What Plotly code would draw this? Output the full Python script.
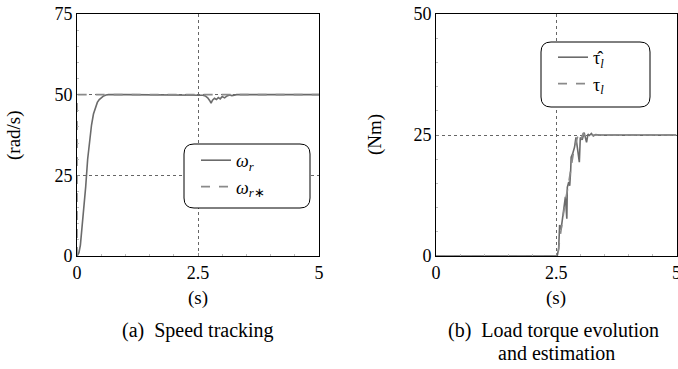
import plotly.graph_objects as go

# ---------------- data ----------------
# (a) speed tracking
t_w = [0, 0.04, 0.07, 0.10, 0.14, 0.18, 0.22, 0.26, 0.30, 0.34, 0.38, 0.42, 0.46, 0.50,
       0.55, 0.60, 0.65, 1.0, 1.5, 2.0, 2.55, 2.60, 2.65, 2.70, 2.74, 2.77, 2.80, 2.84,
       2.88, 2.92, 2.96, 3.00, 3.05, 3.10, 3.15, 3.20, 3.30, 4.0, 5.0]
w_r = [0, 1.0, 3.4, 8.0, 14.5, 21.5, 30.0, 36.0, 40.6, 44.0, 46.2, 47.6, 48.5, 49.1,
       49.6, 49.9, 50.0, 50.0, 50.0, 50.0, 50.0, 49.8, 49.6, 49.0, 48.2, 47.4, 48.3, 48.9,
       48.5, 49.1, 48.7, 49.4, 49.0, 49.6, 49.9, 49.7, 50.0, 50.0, 50.0]
t_ref = [0, 0, 5]
w_ref = [0, 50, 50]

# (b) load torque
t_hat = [0, 1.0, 2.0, 2.52, 2.55, 2.57, 2.60, 2.63, 2.66, 2.69, 2.72, 2.73, 2.76, 2.78,
         2.80, 2.81, 2.84, 2.88, 2.91, 2.95, 2.98, 3.00, 3.04, 3.08, 3.13, 3.16, 3.19,
         3.23, 3.27, 3.32, 3.40, 4.0, 5.0]
tau_hat = [0, 0, 0, 0, 1.5, 6.4, 5.5, 8.1, 9.5, 12.2, 7.7, 14.2, 15.3, 14.5,
           17.7, 20.4, 21.1, 22.5, 24.5, 21.5, 19.4, 24.5, 24.0, 25.5, 23.5, 25.2, 24.9,
           25.3, 24.8, 25.1, 25.0, 25.0, 25.0]
t_tau = [0, 2.53, 2.58, 2.62, 2.66, 2.70, 2.74, 2.78, 2.82, 2.86, 2.90, 2.94, 2.98,
         3.02, 3.06, 3.10, 3.15, 3.20, 3.30, 5.0]
tau_l = [0, 0, 4, 7, 10, 12, 14, 17, 19, 21.5, 23, 24.5, 25.3,
         24.2, 25.4, 24.7, 25.2, 24.9, 25.0, 25.0]

x_ticks = [0, 2.5, 5]
x_tick_text = ["0", "2.5", "5"]
y1_ticks = [0, 25, 50, 75]
y2_ticks = [0, 25, 50]

# ---------------- layout helpers ----------------
W, H = 678, 369
def px(x): return x / W
def py(y): return 1 - y / H

FONT = "Liberation Serif"
LC = "#6b6b6b"
fig = go.Figure()

fig.add_trace(go.Scatter(x=t_w, y=w_r, mode="lines", line=dict(color=LC, width=1.6),
                         name="<i>ω</i><sub><i>r</i></sub>", xaxis="x", yaxis="y", legend="legend"))
fig.add_trace(go.Scatter(x=t_ref, y=w_ref, mode="lines", line=dict(color="#8a8a8a", width=1.6, dash="dash"),
                         name="<i>ω</i><sub><i>r</i>∗</sub>", xaxis="x", yaxis="y", legend="legend"))
fig.add_trace(go.Scatter(x=t_hat, y=tau_hat, mode="lines", line=dict(color=LC, width=1.6),
                         name="τ̂<sub><i>l</i></sub>", xaxis="x2", yaxis="y2", legend="legend2"))
fig.add_trace(go.Scatter(x=t_tau, y=tau_l, mode="lines", line=dict(color="#8a8a8a", width=1.6, dash="dash"),
                         name="τ<sub><i>l</i></sub>", xaxis="x2", yaxis="y2", legend="legend2"))

ax_common = dict(showline=True, mirror=True, linecolor="black", linewidth=1,
                 showgrid=True, gridcolor="#666", griddash="dot", gridwidth=1,
                 zeroline=False, ticks="inside", ticklen=3, tickcolor="#888",
                 tickfont=dict(family=FONT, size=18, color="black"),
                 ticklabeloverflow="allow",
                 minor=dict(ticks="inside", ticklen=2, tickcolor="#bbb", showgrid=False),
                 automargin=False, fixedrange=True)

fig.update_layout(
    width=W, height=H, margin=dict(l=0, r=0, t=0, b=0),
    paper_bgcolor="white", plot_bgcolor="white",
    font=dict(family=FONT, color="black"),
    xaxis=dict(domain=[px(77), px(319)], range=[0, 5], tickvals=x_ticks, ticktext=x_tick_text,
               anchor="y", **ax_common),
    yaxis=dict(domain=[py(256), py(14)], range=[0, 75], tickvals=y1_ticks, anchor="x", **ax_common),
    xaxis2=dict(domain=[px(436), px(676.5)], range=[0, 5], tickvals=x_ticks, ticktext=x_tick_text,
                anchor="y2", **ax_common),
    yaxis2=dict(domain=[py(256), py(14)], range=[0, 50], tickvals=y2_ticks, anchor="x2", **ax_common),
    legend=dict(x=px(196), y=py(142), xanchor="left", yanchor="top", bgcolor="rgba(0,0,0,0)",
                borderwidth=0, font=dict(family=FONT, size=18), itemwidth=30, tracegroupgap=0),
    legend2=dict(x=px(553), y=py(39), xanchor="left", yanchor="top", bgcolor="rgba(0,0,0,0)",
                 borderwidth=0, font=dict(family=FONT, size=18), itemwidth=30, tracegroupgap=0),
    showlegend=True,
)

def rrect(x0, y0, x1, y1, r):
    X0, X1 = px(x0), px(x1)
    Y0, Y1 = py(y0), py(y1)
    rx, ry = r / W, r / H
    return (f"M{X0+rx},{Y0} L{X1-rx},{Y0} Q{X1},{Y0} {X1},{Y0-ry} "
            f"L{X1},{Y1+ry} Q{X1},{Y1} {X1-rx},{Y1} L{X0+rx},{Y1} Q{X0},{Y1} {X0},{Y1+ry} "
            f"L{X0},{Y0-ry} Q{X0},{Y0} {X0+rx},{Y0} Z")

fig.add_shape(type="path", path=rrect(184, 144, 310, 208, 10), xref="paper", yref="paper",
              line=dict(color="black", width=1), fillcolor="white", layer="above")
fig.add_shape(type="path", path=rrect(541, 42, 650, 107, 10), xref="paper", yref="paper",
              line=dict(color="black", width=1), fillcolor="white", layer="above")

def ann(text, x, y, size, angle=0):
    fig.add_annotation(text=text, x=px(x), y=py(y), xref="paper", yref="paper",
                       showarrow=False, textangle=angle, xanchor="center", yanchor="middle",
                       font=dict(family=FONT, size=size, color="black"))

ann("(rad/s)", 14, 135, 19, -90)
ann("(s)", 198, 298, 19)
ann("(a)  Speed tracking", 198, 330, 20)
ann("(Nm)", 375, 135, 19, -90)
ann("(s)", 556, 298, 19)
ann("(b)  Load torque evolution", 553, 330, 20)
ann("and estimation", 556, 353, 20)

fig.write_html("out.html", config={"displayModeBar": False},
               post_script="document.body.style.margin='0';document.body.style.padding='0';")
